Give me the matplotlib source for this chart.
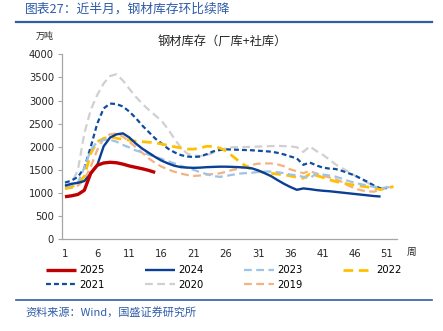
import numpy as np
import matplotlib
matplotlib.use("Agg")
import matplotlib.pyplot as plt

plt.rcParams["font.family"] = ["DejaVu Sans", "Noto Sans CJK SC"]

# steel inventory (factory + social), 10k tonnes, by week of year
y2025 = [920, 940, 970, 1060, 1430, 1600, 1650, 1665, 1655, 1625, 1585, 1555,
         1525, 1490, 1445]
y2024 = [1160, 1200, 1220, 1260, 1420, 1600, 2010, 2200, 2270, 2290, 2200, 2070,
         1960, 1870, 1780, 1700, 1640, 1590, 1560, 1550, 1545, 1550, 1560, 1565,
         1570, 1570, 1565, 1560, 1550, 1535, 1490, 1430, 1365, 1280, 1200, 1130,
         1070, 1100, 1085, 1065, 1050, 1040, 1025, 1010, 995, 980, 965, 950,
         935, 925]
y2023 = [1150, 1170, 1230, 1550, 1930, 2110, 2150, 2150, 2110, 2040, 1985, 1920,
         1880, 1830, 1780, 1740, 1690, 1640, 1590, 1545, 1500, 1450, 1410, 1370,
         1350, 1370, 1395, 1420, 1430, 1440, 1455, 1465, 1465, 1450, 1430, 1400,
         1385, 1350, 1320, 1420, 1400, 1380, 1355, 1310, 1260, 1220, 1190, 1160,
         1130, 1105, 1120, 1150]
y2022 = [1100, 1130, 1210, 1360, 1860, 2110, 2180, 2220, 2185, 2160, 2145, 2120,
         2110, 2100, 2085, 2060, 2030, 2000, 1975, 1950, 1950, 1975, 2010, 2010,
         1975, 1910, 1800, 1690, 1590, 1510, 1470, 1445, 1425, 1410, 1395, 1370,
         1340, 1320, 1410, 1380, 1340, 1290, 1250, 1220, 1190, 1170, 1150, 1130,
         1105, 1075, 1110, 1140]
y2021 = [1225, 1270, 1350, 1540, 2000, 2500, 2830, 2935, 2925, 2870, 2760, 2620,
         2460, 2320, 2180, 2070, 1960, 1880, 1820, 1790, 1780, 1790, 1840, 1900,
         1930, 1945, 1940, 1935, 1930, 1925, 1915, 1905, 1895, 1870, 1835, 1790,
         1750, 1610, 1660, 1600, 1550, 1530, 1520, 1480, 1430, 1380, 1310, 1240,
         1160, 1100, 1110]
y2020 = [1140, 1200, 1500, 2290, 2800, 3120, 3370, 3530, 3570, 3430, 3250, 3080,
         2930, 2800, 2680, 2560, 2380, 2170, 1980, 1850, 1810, 1800, 1820, 1870,
         1930, 1970, 1990, 1995, 1995, 2000, 2005, 2010, 2015, 2020, 2015, 2010,
         1990, 1890, 2010, 1910, 1830, 1730, 1620, 1540, 1460, 1380, 1300, 1220,
         1150, 1100, 1100]
y2019 = [1100, 1110, 1160, 1290, 1570, 1930, 2180, 2270, 2290, 2220, 2110, 1990,
         1870, 1750, 1650, 1570, 1510, 1460, 1420, 1390, 1370, 1380, 1400, 1410,
         1425, 1460, 1500, 1530, 1570, 1610, 1635, 1640, 1640, 1620, 1580, 1510,
         1470, 1430, 1480, 1420, 1370, 1340, 1300, 1240, 1160, 1100, 1060, 1035,
         1030, 1080, 1130]

series = [
    ("2019", y2019, "#F4B183", (3.5, 2), 1.6, 2),
    ("2020", y2020, "#D0D0D0", (3.5, 2), 1.6, 2),
    ("2021", y2021, "#0E4C9E", (2.2, 1.4), 1.6, 3),
    ("2022", y2022, "#FFC000", (3.5, 2), 2.0, 3),
    ("2023", y2023, "#9DC3E6", (3.5, 2), 1.6, 3),
    ("2024", y2024, "#0A3F93", None, 1.7, 4),
    ("2025", y2025, "#C00000", None, 2.4, 5),
]

fig = plt.figure(figsize=(4.43, 3.31), dpi=100)
W, H = 443, 331
ax = fig.add_axes([62.3 / W, 1 - 239.3 / H, (396.7 - 62.3) / W, (239.3 - 54.3) / H])

lines = {}
for name, vals, color, dash, lw, z in series:
    weeks = np.arange(1, len(vals) + 1)
    ln, = ax.plot(weeks, vals, color=color, lw=lw, zorder=z,
                  solid_capstyle="butt", dash_capstyle="butt")
    if dash is not None:
        ln.set_dashes(dash)
    lines[name] = ln

ax.set_xlim(0.58, 52.5)
ax.set_ylim(0, 4000)
ax.set_xticks(np.arange(1, 52, 5))
ax.set_yticks(np.arange(0, 4001, 500))
ax.tick_params(axis="y", length=3, width=0.8, color="#A6A6A6", labelsize=7.2,
               labelcolor="#262626", pad=3)
ax.tick_params(axis="x", length=0, labelsize=7.2, labelcolor="#262626", pad=7)
for s in ["top", "right"]:
    ax.spines[s].set_visible(False)
for s in ["left", "bottom"]:
    ax.spines[s].set_color("#A6A6A6")
    ax.spines[s].set_linewidth(0.9)

# legend reads row by row: 2025 2024 2023 2022 / 2021 2020 2019
order = ["2025", "2021", "2024", "2020", "2023", "2019", "2022"]
fig.legend([lines[k] for k in order], order, ncol=4, frameon=False,
           loc="upper left", bbox_to_anchor=(46 / W, 1 - 265 / H),
           fontsize=7.2, handlelength=3.0, handletextpad=0.35,
           columnspacing=4.0, labelspacing=0.45, borderpad=0, borderaxespad=0)

blue = "#2F5CA8"
fig.text(25 / W, 1 - 9 / H, "图表27：近半月，钢材库存环比续降", fontsize=9.2,
         color=blue, va="center", ha="left", family=["Noto Sans CJK SC"],
         style="italic")
fig.add_artist(plt.Line2D([16 / W, 432 / W], [1 - 22 / H, 1 - 22 / H],
                          color="#2E5EA8", lw=1.6))
fig.text(45 / W, 1 - 36 / H, "万吨", fontsize=6.5, color="#262626",
         va="center", ha="center", family=["Noto Sans CJK SC"])
fig.text(222 / W, 1 - 42 / H, "钢材库存（厂库+社库）", fontsize=8.8,
         color="#262626", va="center", ha="center",
         family=["Noto Sans CJK SC", "DejaVu Sans"])
fig.text(412 / W, 1 - 252 / H, "周", fontsize=7, color="#262626",
         va="center", ha="center", family=["Noto Sans CJK SC"])
fig.add_artist(plt.Line2D([16 / W, 432 / W], [1 - 300 / H, 1 - 300 / H],
                          color="#2E5EA8", lw=1.2))
fig.text(25 / W, 1 - 312 / H, "资料来源：Wind，国盛证券研究所", fontsize=8,
         color=blue, va="center", ha="left",
         family=["Noto Sans CJK SC", "DejaVu Sans"], style="italic")

fig.savefig("out.png", dpi=100)
